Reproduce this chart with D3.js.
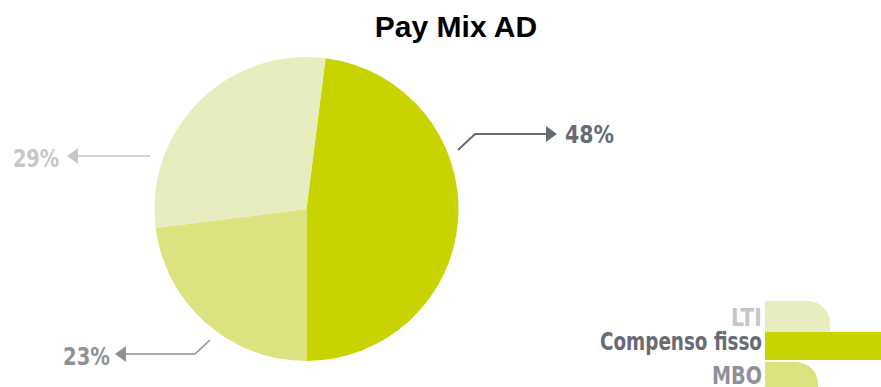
<!DOCTYPE html>
<html>
<head>
<meta charset="utf-8">
<script src="https://cdn.jsdelivr.net/npm/d3@7/dist/d3.min.js"></script>
<style>
  html, body { margin: 0; padding: 0; background: #ffffff; }
  svg { display: block; }
  .cond { font-family: "Liberation Sans Narrow", "DejaVu Sans Condensed", "Roboto Condensed", sans-serif; font-weight: bold; }
</style>
</head>
<body>
<svg id="chart" width="881" height="387"></svg>
<script>
// Pay mix shares (percent), in drawing order around the pie
const categories = ["Compenso fisso", "MBO", "LTI"];
const values = [48, 23, 29];
const valueLabels = ["48%", "23%", "29%"];
const legendOrder = ["LTI", "Compenso fisso", "MBO"];

const sliceColor = d3.scaleOrdinal()
  .domain(categories)
  .range(["#c8d400", "#dde280", "#e8edbf"]);
const textColor = d3.scaleOrdinal()
  .domain(categories)
  .range(["#676c74", "#8e9298", "#c5c7ca"]);

const svg = d3.select("#chart");
const W = 881;

// condensed label: squeeze the glyph run to the given width
function condText(sel, width) {
  sel.attr("textLength", width).attr("lengthAdjust", "spacingAndGlyphs");
}

// title
svg.append("text")
  .attr("x", 456).attr("y", 37)
  .attr("text-anchor", "middle")
  .style("font-family", "'Liberation Sans', Arial, sans-serif")
  .style("font-weight", "bold")
  .style("font-size", "30px")
  .attr("fill", "#000")
  .text("Pay Mix AD");

// pie
const cx = 306.5, cy = 209, R = 152;
const start = Math.PI - (values[0] / d3.sum(values)) * 2 * Math.PI;
const pie = d3.pie().sort(null).value(d => d.v)
  .startAngle(start).endAngle(start + 2 * Math.PI);
const arcs = pie(categories.map((c, i) => ({ c, v: values[i], label: valueLabels[i] })));
const arc = d3.arc().innerRadius(0).outerRadius(R);

const g = svg.append("g").attr("transform", `translate(${cx},${cy})`);
g.selectAll("path.slice").data(arcs).join("path")
  .attr("class", "slice")
  .attr("d", arc)
  .attr("fill", d => sliceColor(d.data.c));

// leader lines with arrowheads and value labels (absolute page coordinates)
const leaders = {
  "Compenso fisso": { pts: [[458, 150], [475, 134], [547, 134]], tip: [557, 134], dir: 1, hh: 8, tx: 565, ty: 143, anchor: "start", w: 2, tw: 49 },
  "MBO": { pts: [[210, 340], [195, 354], [126, 354]], tip: [115, 354], dir: -1, hh: 8, tx: 63, ty: 365, anchor: "start", w: 1.6, tw: 47 },
  "LTI": { pts: [[150, 156], [78, 156]], tip: [67, 156], dir: -1, hh: 8, tx: 13, ty: 167, anchor: "start", w: 1.6, tw: 46 }
};

const ann = svg.append("g");
arcs.forEach(a => {
  const L = leaders[a.data.c];
  const col = textColor(a.data.c);
  ann.append("path")
    .attr("d", d3.line()(L.pts))
    .attr("fill", "none")
    .attr("stroke", col)
    .attr("stroke-width", L.w);
  const [tx, ty] = L.tip;
  const bx = tx - L.dir * 11;
  ann.append("path")
    .attr("d", `M${tx},${ty}L${bx},${ty - L.hh}L${bx},${ty + L.hh}Z`)
    .attr("fill", col);
  ann.append("text")
    .attr("class", "cond")
    .attr("x", L.tx).attr("y", L.ty)
    .attr("text-anchor", L.anchor)
    .style("font-size", "25px")
    .attr("fill", col)
    .text(a.data.label)
    .call(condText, L.tw);
});

// legend
const legend = svg.append("g");
const lx = 765;
const rowY = { "LTI": 301, "Compenso fisso": 332, "MBO": 362 };
const rowText = { "LTI": 326, "Compenso fisso": 350, "MBO": 384 };
const rowTextW = { "LTI": 31, "Compenso fisso": 162, "MBO": 50 };
const tabW = { "LTI": 65, "MBO": 53 };
const rr = 22;

// rounded tabs for LTI (top) and MBO (bottom); fixed band drawn over them
["LTI", "MBO"].forEach(k => {
  const y0 = rowY[k], w = tabW[k], h = 50;
  legend.append("path")
    .attr("d", `M${lx},${y0}H${lx + w - rr}A${rr},${rr} 0 0 1 ${lx + w},${y0 + rr}V${y0 + h}H${lx}Z`)
    .attr("fill", sliceColor(k));
});
legend.append("rect")
  .attr("x", lx).attr("y", rowY["Compenso fisso"])
  .attr("width", W - lx).attr("height", 28)
  .attr("fill", sliceColor("Compenso fisso"));

legend.selectAll("text").data(legendOrder).join("text")
  .attr("class", "cond")
  .attr("x", d => 762 - rowTextW[d])
  .attr("y", d => rowText[d])
  .style("font-size", "25px")
  .attr("fill", d => textColor(d))
  .text(d => d)
  .each(function (d) { d3.select(this).call(condText, rowTextW[d]); });
</script>
</body>
</html>
